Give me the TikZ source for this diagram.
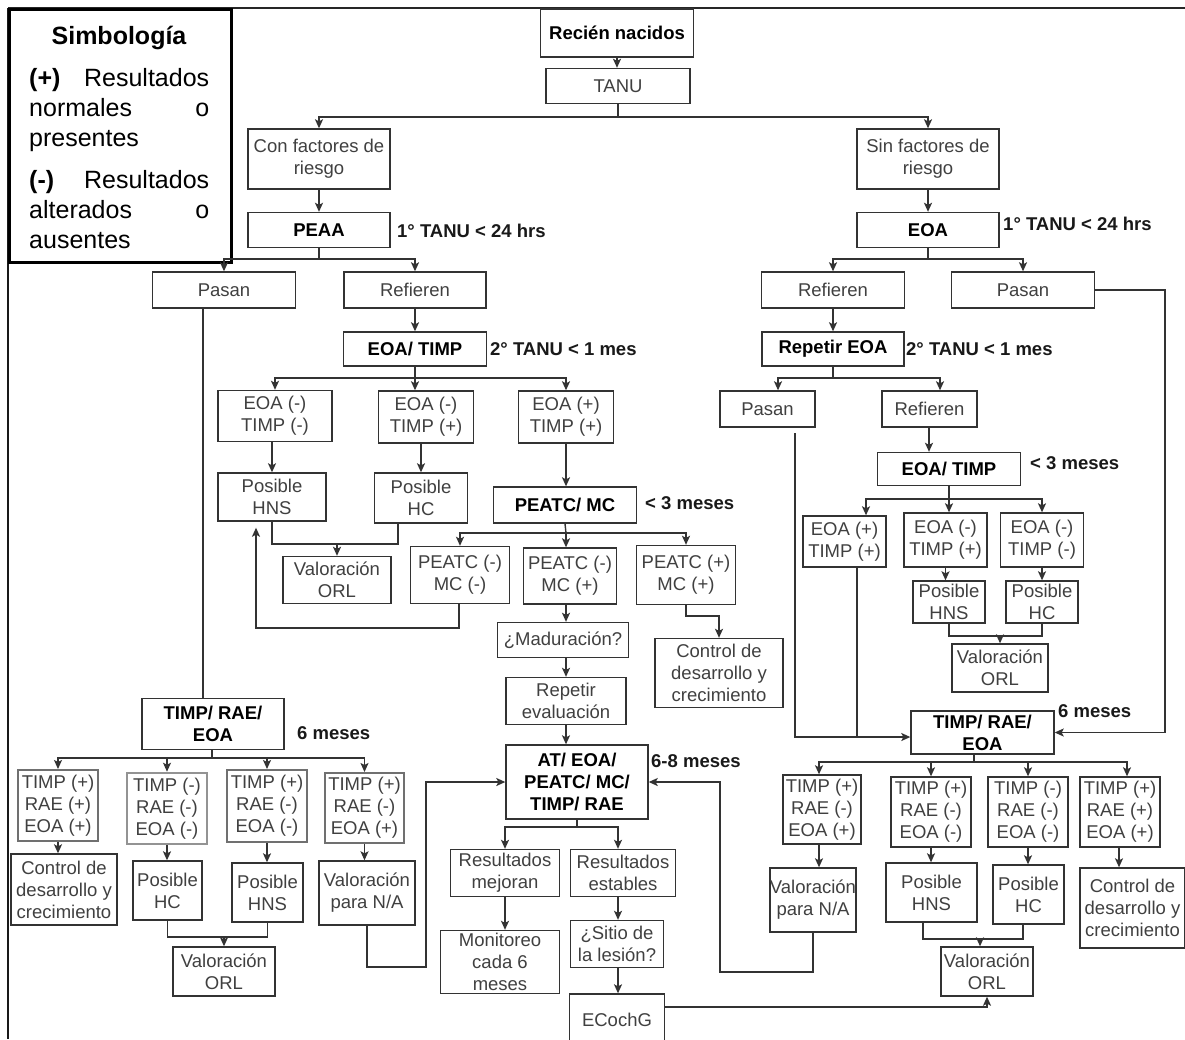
\documentclass[tikz,border=0pt]{standalone}
\usepackage{fontspec}
\setmainfont{Liberation Sans}
\usetikzlibrary{arrows.meta}
\definecolor{bord}{HTML}{333333}
\definecolor{txt}{HTML}{404040}
\definecolor{gbord}{HTML}{707070}
\newcommand\bfs{\fontsize{18.5}{22}\selectfont}
\newcommand\lfs{\fontsize{25}{30}\selectfont}
\begin{document}
\begin{tikzpicture}[x=1pt,y=-1pt,
 bx/.style={draw=bord, line width=1.4pt, text=txt, font=\bfs, align=center, inner sep=0pt},
 gbx/.style={bx, draw=gbord, line width=2pt},
 bbx/.style={bx, text=black, font=\bfs\bfseries},
 lab/.style={anchor=west, inner sep=0pt, font=\bfs\bfseries, text=black!90},
 ln/.style={draw=bord, line width=1.4pt},
 arr/.style={ln, -{Stealth[length=9pt,width=8pt,inset=2pt]}},
 legl/.style={anchor=base west, inner sep=0pt, font=\lfs, text=black}
 ]
\path[use as bounding box] (0,0) rectangle (1185,1039);
\clip (0,0) rectangle (1185,1039);
\fill[white] (0,0) rectangle (1185,1039);

% frame
\draw[line width=1.6pt, draw=black!85] (8,8) -- (1185,8);
\draw[line width=1.8pt, draw=black!90] (8,8) -- (8,1039);

% legend
\node[draw=black, line width=2.6pt, fill=white, minimum width=222pt, minimum height=253pt, anchor=north west, inner sep=0pt] (leg) at (8,8) {};
\node[anchor=base, inner sep=0pt, font=\lfs\bfseries] (leg0) at (119,44) {Simbología};
\node[legl] (leg1) at (29,86) {\makebox[180pt]{\textbf{(+)}\hfill Resultados}};
\node[legl] (leg2) at (29,116) {\makebox[180pt]{normales\hfill o}};
\node[legl] (leg3) at (29,146) {presentes};
\node[legl] (leg4) at (29,188) {\makebox[180pt]{\textbf{(-)}\hfill Resultados}};
\node[legl] (leg5) at (29,218) {\makebox[180pt]{alterados\hfill o}};
\node[legl] (leg6) at (29,248) {ausentes};

% top
\node[bbx, minimum width=153pt, minimum height=48pt] (rn) at (617,33) {Recién nacidos};
\node[bx, minimum width=144pt, minimum height=35pt] (tanu) at (618,86) {TANU};
\node[bx, minimum width=142pt, minimum height=60pt] (con) at (319,159) {Con factores de\\riesgo};
\node[bx, minimum width=142pt, minimum height=60pt] (sin) at (928,159) {Sin factores de\\riesgo};
\node[bbx, minimum width=142pt, minimum height=35pt] (peaa) at (319,230) {PEAA};
\node[bbx, minimum width=142pt, minimum height=35pt] (eoa1) at (928,230) {EOA};
\node[lab] (l1) at (397,231) {1° TANU < 24 hrs};
\node[lab] (l2) at (1003,224) {1° TANU < 24 hrs};
\node[bx, minimum width=143pt, minimum height=36pt] (pasanL) at (224,290) {Pasan};
\node[bx, minimum width=142pt, minimum height=36pt] (refL) at (415,290) {Refieren};
\node[bx, minimum width=143pt, minimum height=36pt] (refR) at (833,290) {Refieren};
\node[bx, minimum width=143pt, minimum height=36pt] (pasanR) at (1023,290) {Pasan};
\node[bbx, minimum width=143pt, minimum height=34pt] (etL) at (415,349) {EOA/ TIMP};
\node[lab] (l3) at (490,349) {2° TANU < 1 mes};
\node[bbx, minimum width=142pt, minimum height=34pt] (rep) at (833,349) {Repetir EOA};
\node[lab] (l4) at (906,349) {2° TANU < 1 mes};

% left middle
\node[bx, minimum width=114pt, minimum height=51pt] (c1) at (275,416) {EOA (-)\\TIMP (-)};
\node[bx, minimum width=95pt, minimum height=52pt] (c2) at (426,417) {EOA (-)\\TIMP (+)};
\node[bx, minimum width=95pt, minimum height=52pt] (c3) at (566,417) {EOA (+)\\TIMP (+)};
\node[bx, minimum width=108pt, minimum height=48pt] (hns1) at (272,497) {Posible\\HNS};
\node[bx, minimum width=93pt, minimum height=50pt] (hc1) at (421,498) {Posible\\HC};
\node[bx, minimum width=108pt, minimum height=47pt] (orl1) at (337,580) {Valoración\\ORL};
\node[bbx, minimum width=143pt, minimum height=36pt] (pm) at (565,505) {PEATC/ MC};
\node[lab] (l5) at (645,503) {< 3 meses};
\node[bx, minimum width=99pt, minimum height=57pt] (p1) at (460,575) {PEATC (-)\\MC (-)};
\node[bx, minimum width=93pt, minimum height=56pt] (p2) at (570,576) {PEATC (-)\\MC (+)};
\node[bx, minimum width=99pt, minimum height=59pt] (p3) at (686,575) {PEATC (+)\\MC (+)};
\node[bx, minimum width=131pt, minimum height=35pt] (mad) at (563,640) {¿Maduración?};
\node[bx, minimum width=120pt, minimum height=47pt] (rpe) at (566,701) {Repetir\\evaluación};
\node[bx, minimum width=128pt, minimum height=69pt] (ctl1) at (719,673) {Control de\\desarrollo y\\crecimiento};
\node[bbx, minimum width=142pt, minimum height=74pt] (at) at (577,782) {AT/ EOA/\\PEATC/ MC/\\TIMP/ RAE};
\node[lab] (l6) at (651,761) {6-8 meses};
\node[bx, minimum width=109pt, minimum height=47pt] (rm) at (505,873) {Resultados\\mejoran};
\node[bx, minimum width=105pt, minimum height=47pt] (res) at (623,873) {Resultados\\estables};
\node[bx, minimum width=119pt, minimum height=63pt] (mon) at (500,962) {Monitoreo\\cada 6\\meses};
\node[bx, minimum width=93pt, minimum height=47pt] (sit) at (617,944) {¿Sitio de\\la lesión?};
\node[bx, minimum width=95pt, minimum height=52pt] (ecg) at (617,1020) {ECochG};

% left bottom
\node[bbx, minimum width=142pt, minimum height=51pt] (tre1) at (213,724) {TIMP/ RAE/\\EOA};
\node[lab] (l7) at (297,733) {6 meses};
\node[gbx, minimum width=80pt, minimum height=71pt] (L1) at (58,805.5) {TIMP (+)\\RAE (+)\\EOA (+)};
\node[gbx, line width=2.6pt, draw=gray!85, minimum width=80pt, minimum height=71pt] (L2) at (167,808.5) {TIMP (-)\\RAE (-)\\EOA (-)};
\node[gbx, minimum width=80pt, minimum height=72pt] (L3) at (267,806) {TIMP (+)\\RAE (-)\\EOA (-)};
\node[gbx, minimum width=79pt, minimum height=70pt] (L4) at (364.5,808) {TIMP (+)\\RAE (-)\\EOA (+)};
\node[bx, minimum width=106pt, minimum height=71pt] (ctlL) at (64,889.5) {Control de\\desarrollo y\\crecimiento};
\node[bx, minimum width=69pt, minimum height=59pt] (hcL) at (167.5,890.5) {Posible\\HC};
\node[bx, minimum width=71pt, minimum height=59pt] (hnsL) at (267.5,892.5) {Posible\\HNS};
\node[bx, minimum width=96pt, minimum height=64pt] (naL) at (367,893) {Valoración\\para N/A};
\node[bx, minimum width=102pt, minimum height=49pt] (orlL) at (224,971.5) {Valoración\\ORL};

% right middle
\node[bx, minimum width=95pt, minimum height=36pt] (pasM) at (767.5,409) {Pasan};
\node[bx, minimum width=95pt, minimum height=36pt] (refM) at (929.5,409) {Refieren};
\node[bbx, minimum width=143pt, minimum height=33pt] (etR) at (949,469) {EOA/ TIMP};
\node[lab] (l8) at (1030,463) {< 3 meses};
\node[bx, minimum width=83pt, minimum height=51pt] (r1) at (844.5,541.5) {EOA (+)\\TIMP (+)};
\node[bx, minimum width=83pt, minimum height=54pt] (r2) at (945.5,540) {EOA (-)\\TIMP (+)};
\node[bx, minimum width=83pt, minimum height=54pt] (r3) at (1042,540) {EOA (-)\\TIMP (-)};
\node[bx, minimum width=72pt, minimum height=42pt] (hnsR) at (949,602) {Posible\\HNS};
\node[bx, minimum width=72pt, minimum height=42pt] (hcR) at (1042,602) {Posible\\HC};
\node[bx, minimum width=96pt, minimum height=48pt] (orlR1) at (1000,668) {Valoración\\ORL};

% right bottom
\node[bbx, minimum width=143pt, minimum height=43pt] (tre2) at (982.5,732.5) {TIMP/ RAE/\\EOA};
\node[lab] (l9) at (1058,711) {6 meses};
\node[bx, minimum width=78pt, minimum height=69pt] (B1) at (822,809.5) {TIMP (+)\\RAE (-)\\EOA (+)};
\node[bx, minimum width=80pt, minimum height=70pt] (B2) at (931,812) {TIMP (+)\\RAE (-)\\EOA (-)};
\node[bx, minimum width=80pt, minimum height=70pt] (B3) at (1028,812) {TIMP (-)\\RAE (-)\\EOA (-)};
\node[bx, minimum width=80pt, minimum height=70pt] (B4) at (1120,812) {TIMP (+)\\RAE (+)\\EOA (+)};
\node[bx, minimum width=82pt, minimum height=64pt] (naR) at (813,900) {Valoración\\para N/A};
\node[bx, minimum width=91pt, minimum height=59pt] (hnsR2) at (931.5,892.5) {Posible\\HNS};
\node[bx, minimum width=71pt, minimum height=59pt] (hcR2) at (1028.5,894.5) {Posible\\HC};
\node[bx, minimum width=105pt, minimum height=80pt] (ctlR) at (1132.5,908) {Control de\\desarrollo y\\crecimiento};
\node[bx, minimum width=92pt, minimum height=49pt] (orlR2) at (987,971.5) {Valoración\\ORL};

% ---------- connectors ----------
\coordinate (j0) at (618,117);
\draw[arr] (rn.south) -- (rn.south |- tanu.north);
\draw[ln] (tanu.south) -- (j0);
\draw[arr] (j0) -| (con.north);
\draw[arr] (j0) -| (sin.north);
\draw[arr] (con) -- (peaa);
\draw[arr] (sin) -- (eoa1);
\coordinate (j1) at (319,259);
\draw[ln] (peaa.south) -- (j1);
\draw[arr] (j1) -| (pasanL.north);
\draw[arr] (j1) -| (refL.north);
\coordinate (j2) at (928,259);
\draw[ln] (eoa1.south) -- (j2);
\draw[arr] (j2) -| (refR.north);
\draw[arr] (j2) -| (pasanR.north);
\draw[arr] (refL) -- (etL);
\draw[arr] (refR) -- (rep);

% left level 3
\coordinate (j3) at (415,378);
\draw[ln] (etL.south) -- (j3);
\draw[arr] (j3) -- (j3 |- c2.north);
\draw[arr] (j3) -| (c1.north);
\draw[arr] (j3) -| (c3.north);
\draw[arr] (c1.south -| hns1.north) -- (hns1.north);
\draw[arr] (c2.south -| hc1.north) -- (hc1.north);
\coordinate (m1) at (337,544);
\coordinate (m1a) at (398,544);
\draw[ln] (hns1.south) |- (m1a) -- (m1a |- hc1.south);
\draw[arr] (m1) -- (orl1.north);
\draw[arr] (c3.south) -- (c3.south |- pm.north);
\coordinate (j4) at (566,533);
\draw[ln] (pm.south) -- (j4);
\draw[arr] (j4) -| (p1.north);
\draw[arr] (j4) -- (j4 |- p2.north);
\draw[arr] (j4) -| (p3.north);
\coordinate (lp1) at (459,628);
\coordinate (lp2) at (256,628);
\draw[arr, shorten >=6pt] (p1.south -| lp1) -- (lp1) -- (lp2) -- (lp2 |- hns1.south);
\draw[arr] (p2.south -| j4) -- (mad.north -| j4);
\draw[arr] (mad.south -| j4) -- (rpe.north -| j4);
\draw[arr] (rpe.south) -- (rpe.south |- at.north);
\coordinate (k1) at (719,616);
\draw[arr] (p3.south) |- (k1) -- (ctl1.north);

% AT outputs
\coordinate (j5) at (577,827);
\coordinate (j5b) at (618,827);
\draw[ln] (at.south) -- (j5);
\draw[arr] (j5) -| (rm.north);
\draw[arr] (j5) -- (j5b) -- (j5b |- res.north);
\draw[arr] (rm.south) -- (rm.south |- mon.north);
\draw[arr] (j5b |- res.south) -- (j5b |- sit.north);
\draw[arr] (j5b |- sit.south) -- (j5b |- ecg.north);
\coordinate (e1) at (987,1007);
\draw[arr] (ecg.east |- e1) -- (e1) -- (orlR2.south);

% left bottom connectors
\coordinate (pl) at (203,0);
\draw[ln] (pasanL.south -| pl) -- (tre1.north -| pl);
\coordinate (j6) at (212,758);
\draw[ln] (tre1.south -| j6) -- (j6);
\draw[arr] (j6) -| (L1.north);
\draw[arr] (j6) -| (L2.north);
\draw[arr] (j6) -| (L3.north);
\draw[arr] (j6) -| (L4.north);
\draw[arr] (L1.south) -- (L1.south |- ctlL.north);
\draw[arr] (L2.south) -- (L2.south |- hcL.north);
\draw[arr] (L3.south) -- (L3.south |- hnsL.north);
\draw[arr] (L4.south) -- (L4.south |- naL.north);
\coordinate (m2) at (224,937);
\draw[ln] (hcL.south) |- (m2) -| (hnsL.south);
\draw[arr] (m2) -- (orlL.north);
\coordinate (n1) at (426,967);
\draw[arr] (naL.south) |- (n1) |- (at.west);

% right side connectors
\coordinate (q1) at (1165,290);
\draw[arr] (pasanR.east) -- (q1) |- (tre2.east);
\coordinate (j7) at (833,378);
\coordinate (j7a) at (778,378);
\coordinate (j7b) at (940,378);
\draw[ln] (rep.south) -- (j7);
\draw[arr] (j7) -- (j7a) -- (j7a |- pasM.north);
\draw[arr] (j7) -- (j7b) -- (j7b |- refM.north);
\coordinate (s1) at (795,433);
\coordinate (s2) at (795,737);
\draw[arr] (s1) -- (s2) -- (s2 -| tre2.west);
\coordinate (s3) at (929,0);
\draw[arr] (refM.south -| s3) -- (etR.north -| s3);
\coordinate (j8) at (949,499);
\coordinate (j8a) at (866,499);
\draw[ln] (etR.south) -- (j8);
\draw[arr] (j8) -- (j8a) -- (j8a |- r1.north);
\draw[arr] (j8) -- (j8 |- r2.north);
\draw[arr] (j8) -| (r3.north);
\coordinate (s4) at (857,0);
\draw[ln] (r1.south -| s4) -- (s2 -| s4);
\draw[arr] (r2.south) -- (r2.south |- hnsR.north);
\draw[arr] (r3.south) -- (hcR.north);
\coordinate (m3) at (1000,636);
\draw[ln] (hnsR.south) |- (m3) -| (hcR.south);
\draw[arr] (m3) -- (orlR1.north);

\coordinate (j9) at (974,762);
\coordinate (j9a) at (819,762);
\coordinate (j9d) at (1127,762);
\draw[ln] (tre2.south -| j9) -- (j9);
\draw[arr] (j9) -- (j9a) -- (j9a |- B1.north);
\draw[arr] (j9) -| (B2.north);
\draw[arr] (j9) -| (B3.north);
\draw[arr] (j9) -- (j9d) -- (j9d |- B4.north);
\draw[arr] (j9a |- B1.south) -- (j9a |- naR.north);
\draw[arr] (B2.south) -- (B2.south |- hnsR2.north);
\draw[arr] (B3.south) -- (B3.south |- hcR2.north);
\coordinate (s5) at (1119,0);
\draw[arr] (B4.south -| s5) -- (ctlR.north -| s5);
\coordinate (m4) at (980,939);
\coordinate (m4a) at (923,939);
\coordinate (m4b) at (1023,939);
\draw[ln] (m4a |- hnsR2.south) -- (m4a) -- (m4b) -- (m4b |- hcR2.south);
\draw[arr] (m4) -- (m4 |- orlR2.north);
\coordinate (n2) at (720,972);
\draw[arr] (naR.south) |- (n2) |- (at.east);
\end{tikzpicture}
\end{document}
